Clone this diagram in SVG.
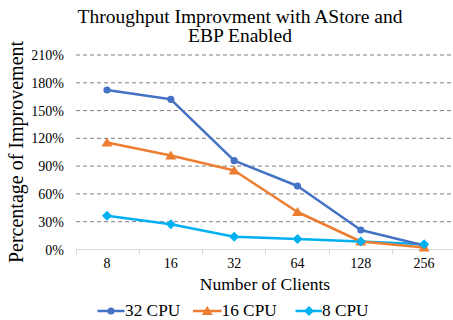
<svg xmlns="http://www.w3.org/2000/svg" width="453" height="320" viewBox="0 0 453 320" font-family="'Liberation Serif', 'Tinos', 'Nimbus Roman', 'DejaVu Serif', serif">
<style>
text{font-family:'Liberation Serif','Tinos','Nimbus Roman',serif;fill:#000}
.grid{stroke:#7f7f7f;stroke-width:1;stroke-dasharray:4,3}
.ytick{font-size:14px;text-anchor:end}
.xtick{font-size:14px;text-anchor:middle}
.s32{stroke:#4472C4;fill:none;stroke-width:2.5;stroke-linejoin:round}
.s16{stroke:#ED7D31;fill:none;stroke-width:2.5;stroke-linejoin:round}
.s8{stroke:#00B0F0;fill:none;stroke-width:2.5;stroke-linejoin:round}
</style>
<defs>
<circle id="mc" r="3.6" fill="#4472C4"/>
<polygon id="mt" points="0,-5 5.5,4 -5.5,4" fill="#ED7D31"/>
<polygon id="md" points="0,-5 5,0 0,5 -5,0" fill="#00B0F0"/>
</defs>
<rect width="453" height="320" fill="#fff"/>
<g id="title">
<text x="240" y="23" font-size="19.5" text-anchor="middle">Throughput Improvment with AStore and</text>
<text x="240" y="42" font-size="19.5" text-anchor="middle">EBP Enabled</text>
</g>
<g id="gridlines">
<line class="grid" x1="76" y1="55" x2="453" y2="55"/>
<line class="grid" x1="76" y1="82.8" x2="453" y2="82.8"/>
<line class="grid" x1="76" y1="110.6" x2="453" y2="110.6"/>
<line class="grid" x1="76" y1="138.3" x2="453" y2="138.3"/>
<line class="grid" x1="76" y1="166.1" x2="453" y2="166.1"/>
<line class="grid" x1="76" y1="193.9" x2="453" y2="193.9"/>
<line class="grid" x1="76" y1="221.7" x2="453" y2="221.7"/>
</g>
<g id="x-axis" stroke="#d9d9d9" stroke-width="1">
<line x1="76" y1="249.5" x2="453" y2="249.5"/>
<line x1="76.5" y1="249.5" x2="76.5" y2="254.5"/>
<line x1="139.5" y1="249.5" x2="139.5" y2="254.5"/>
<line x1="202.5" y1="249.5" x2="202.5" y2="254.5"/>
<line x1="265.5" y1="249.5" x2="265.5" y2="254.5"/>
<line x1="329.5" y1="249.5" x2="329.5" y2="254.5"/>
<line x1="392.5" y1="249.5" x2="392.5" y2="254.5"/>
</g>
<g id="y-labels">
<text class="ytick" x="64" y="60">210%</text>
<text class="ytick" x="64" y="87.8">180%</text>
<text class="ytick" x="64" y="115.6">150%</text>
<text class="ytick" x="64" y="143.3">120%</text>
<text class="ytick" x="64" y="171.1">90%</text>
<text class="ytick" x="64" y="198.9">60%</text>
<text class="ytick" x="64" y="226.7">30%</text>
<text class="ytick" x="64" y="254.5">0%</text>
</g>
<g id="x-labels">
<text class="xtick" x="107" y="267.5">8</text>
<text class="xtick" x="170.8" y="267.5">16</text>
<text class="xtick" x="234.2" y="267.5">32</text>
<text class="xtick" x="297.5" y="267.5">64</text>
<text class="xtick" x="360.8" y="267.5">128</text>
<text class="xtick" x="424.1" y="267.5">256</text>
</g>
<g id="axis-titles">
<text x="265" y="289.5" font-size="17.5" text-anchor="middle">Number of Clients</text>
<text transform="translate(23,152) rotate(-90)" font-size="20" text-anchor="middle">Percentage of Improvement</text>
</g>
<g id="connectors">
<polyline id="line-8cpu" class="s8" points="107,215.7 170.8,224.3 234.2,236.7 297.5,239 360.8,241.5 424.1,244.3"/>
<polyline id="line-16cpu" class="s16" points="107,142.5 170.8,155.5 234.2,170.5 297.5,212 360.8,241.5 424.1,247.5"/>
<polyline id="line-32cpu" class="s32" points="107,90 170.8,99.3 234.2,160.7 297.5,186 360.8,230 424.1,245.5"/>
</g>
<g id="series-32cpu">
<use href="#mc" x="107" y="90"/><use href="#mc" x="170.8" y="99.3"/><use href="#mc" x="234.2" y="160.7"/><use href="#mc" x="297.5" y="186"/><use href="#mc" x="360.8" y="230"/><use href="#mc" x="424.1" y="245.5"/>
</g>
<g id="series-16cpu">
<use href="#mt" x="107" y="142.5"/><use href="#mt" x="170.8" y="155.5"/><use href="#mt" x="234.2" y="170.5"/><use href="#mt" x="297.5" y="212"/><use href="#mt" x="360.8" y="241.5"/><use href="#mt" x="424.1" y="247.5"/>
</g>
<g id="series-8cpu">
<use href="#md" x="107" y="215.7"/><use href="#md" x="170.8" y="224.3"/><use href="#md" x="234.2" y="236.7"/><use href="#md" x="297.5" y="239"/><use href="#md" x="360.8" y="241.5"/><use href="#md" x="424.1" y="244.3"/>
</g>
<g id="legend">
<line class="s32" x1="97.5" y1="311" x2="124.5" y2="311"/><use href="#mc" x="111" y="311"/>
<text x="125" y="315.5" font-size="17.3">32 CPU</text>
<line class="s16" x1="193" y1="311" x2="221.5" y2="311"/><use href="#mt" x="207.3" y="311"/>
<text x="221.5" y="315.5" font-size="17.3">16 CPU</text>
<line class="s8" x1="295.5" y1="311" x2="322" y2="311"/><use href="#md" x="309" y="311"/>
<text x="322" y="315.5" font-size="17.3">8 CPU</text>
</g>
</svg>
